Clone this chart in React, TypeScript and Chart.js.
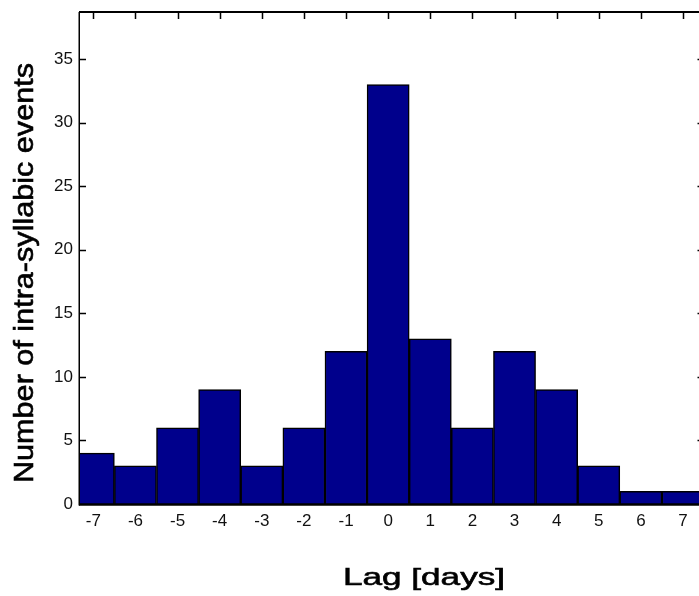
import React, { useEffect, useRef } from "react";
import { Chart, registerables } from "chart.js";

Chart.register(...registerables);

// ---- data ----
const lagDays: number[] = [-7, -6, -5, -4, -3, -2, -1, 0, 1, 2, 3, 4, 5, 6, 7];
const eventCounts: number[] = [4, 3, 6, 9, 3, 6, 12, 33, 13, 6, 12, 9, 3, 1, 1];
const xRange: number[] = [-7.34, 7.38];
const yRange: number[] = [0, 38.7];
const xTitle = "Lag [days]";
const yTitle = "Number of intra-syllabic events";

const FONT = '"Liberation Sans", Arial, Helvetica, sans-serif';

const framePlugin = {
  id: "matlabFrame",
  afterDatasetsDraw(chart: any) {
    const { ctx, chartArea: a, scales } = chart;
    const xs = scales.x;
    const ys = scales.y;
    ctx.save();
    ctx.strokeStyle = "#000";
    // y ticks (left inward, right partially visible)
    ctx.lineWidth = 1.5;
    ctx.beginPath();
    ys.ticks.forEach((t: any) => {
      if (t.value === 0) return;
      const py = Math.round(ys.getPixelForValue(t.value)) + 0.5;
      ctx.moveTo(a.left, py);
      ctx.lineTo(a.left + 7, py);
      ctx.moveTo(a.right - 1.5, py);
      ctx.lineTo(a.right + 10, py);
    });
    // top ticks inward
    xs.ticks.forEach((t: any) => {
      const px = Math.round(xs.getPixelForValue(t.value)) + 0.5;
      ctx.moveTo(px, a.top);
      ctx.lineTo(px, a.top + 7);
    });
    ctx.stroke();
    // frame lines
    ctx.lineWidth = 2.5;
    ctx.beginPath();
    ctx.moveTo(a.left, a.bottom + 0.5);
    ctx.lineTo(a.right + 5, a.bottom + 0.5);
    ctx.stroke();
    ctx.lineWidth = 2;
    ctx.beginPath();
    ctx.moveTo(a.left, a.top);
    ctx.lineTo(a.right + 5, a.top);
    ctx.stroke();
    ctx.lineWidth = 1.5;
    ctx.beginPath();
    ctx.moveTo(a.left + 0.25, a.top);
    ctx.lineTo(a.left + 0.25, a.bottom + 1.5);
    ctx.stroke();

    // axis titles
    ctx.fillStyle = "#000";
    ctx.strokeStyle = "#000";
    ctx.lineWidth = 0.6;
    ctx.textAlign = "center";
    ctx.textBaseline = "alphabetic";
    // x title
    ctx.font = `24px ${FONT}`;
    const wx = ctx.measureText(xTitle).width;
    ctx.save();
    ctx.translate(424, 585);
    ctx.scale(162 / wx, 1);
    ctx.fillText(xTitle, 0, 0);
    ctx.strokeText(xTitle, 0, 0);
    ctx.restore();
    // y title
    ctx.font = `28px ${FONT}`;
    const wy = ctx.measureText(yTitle).width;
    ctx.save();
    ctx.translate(33, 273);
    ctx.rotate(-Math.PI / 2);
    ctx.scale(420 / wy, 1);
    ctx.fillText(yTitle, 0, 0);
    ctx.strokeText(yTitle, 0, 0);
    ctx.restore();
    ctx.restore();
  },
};

export default function App() {
  const ref = useRef<HTMLCanvasElement | null>(null);
  useEffect(() => {
    if (!ref.current) return;
    const chart = new Chart(ref.current, {
      type: "bar",
      data: {
        datasets: [
          {
            data: lagDays.map((x, i) => ({ x, y: eventCounts[i] })),
            backgroundColor: "#00008C",
            borderColor: "#000",
            borderWidth: 1.5,
            barPercentage: 1,
            categoryPercentage: 1,
            clip: 0,
          } as any,
        ],
      },
      options: {
        responsive: false,
        animation: false,
        devicePixelRatio: 1,
        layout: { padding: { top: 12, right: 0, left: 0, bottom: 0 } },
        plugins: { legend: { display: false }, tooltip: { enabled: false } },
        scales: {
          x: {
            type: "linear",
            offset: false,
            min: xRange[0],
            max: xRange[1],
            grid: { display: false, drawTicks: false, offset: false },
            border: { display: false },
            ticks: {
              stepSize: 1,
              includeBounds: false,
              padding: 7,
              color: "#111",
              font: { size: 17, family: FONT },
              maxRotation: 0,
              callback: (v: any) => String(v),
            },
            afterFit: (s: any) => {
              s.height = 92;
              s.paddingLeft = 0;
              s.paddingRight = 0;
            },
          },
          y: {
            type: "linear",
            min: yRange[0],
            max: yRange[1],
            grid: { display: false, drawTicks: false },
            border: { display: false },
            ticks: {
              stepSize: 5,
              includeBounds: false,
              padding: 6,
              color: "#111",
              font: { size: 17, family: FONT },
              callback: (v: any) => String(v),
            },
            afterFit: (s: any) => {
              s.width = 79;
              s.paddingTop = 0;
              s.paddingBottom = 0;
            },
          },
        },
      },
      plugins: [framePlugin],
    });
    return () => chart.destroy();
  }, []);
  return (
    <div style={{ position: "absolute", left: 0, top: 0, width: 699, height: 596, background: "#fff" }}>
      <canvas ref={ref} width={699} height={596} />
    </div>
  );
}
